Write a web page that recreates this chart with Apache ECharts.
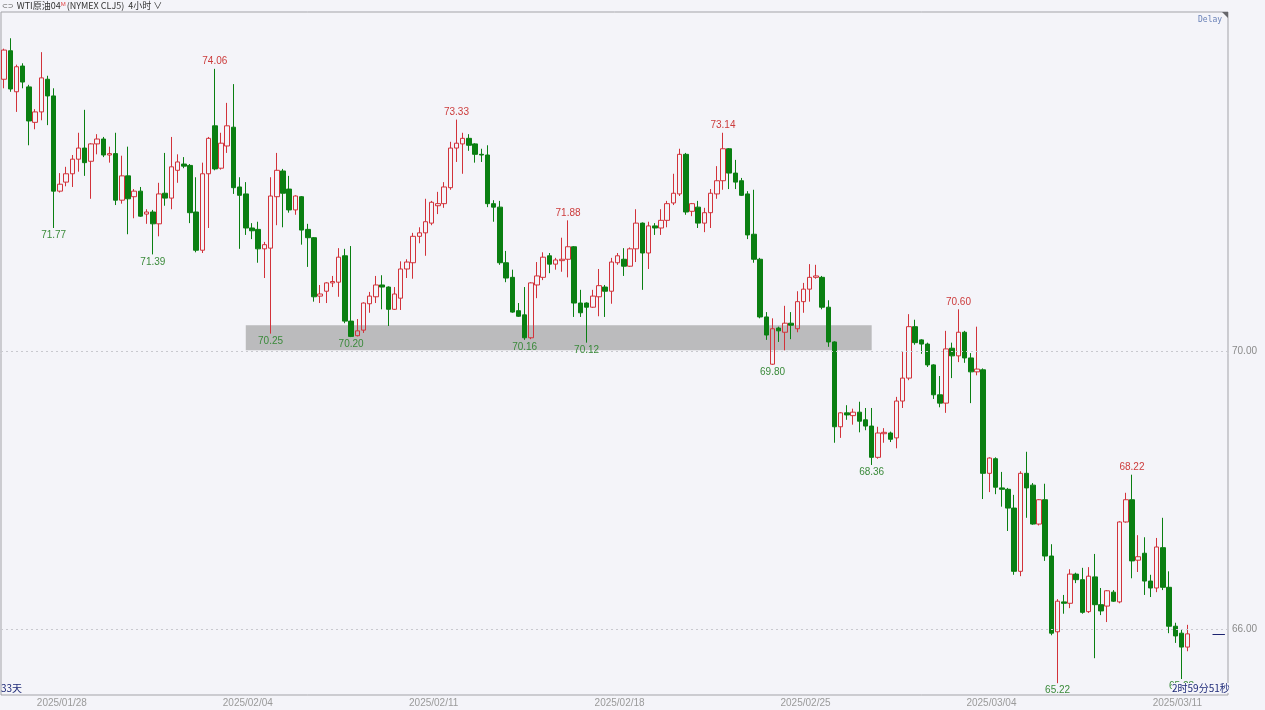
<!DOCTYPE html>
<html><head><meta charset="utf-8">
<script src="https://cdn.jsdelivr.net/npm/echarts@6/dist/echarts.min.js"></script>
<style>html,body{margin:0;padding:0;background:#f4f4f9;}#c{width:1265px;height:710px;}</style>
</head><body><div id="c"></div>
<script>
// 4-hour candles: [open, close, low, high]
const candles = [
[73.91,74.33,73.78,74.35],[74.32,73.77,73.73,74.50],[73.73,74.09,73.44,74.12],[74.10,73.87,73.78,74.14],[73.80,73.31,72.96,73.83],
[73.29,73.44,73.19,73.48],[73.44,73.93,73.32,74.30],[73.91,73.67,73.25,73.96],[73.67,72.30,71.77,73.78],[72.30,72.40,72.28,72.56],
[72.43,72.55,72.37,72.65],[72.55,72.76,72.36,72.82],[72.76,72.92,72.58,73.14],[72.92,72.71,72.52,73.47],[72.73,72.98,72.19,72.99],
[72.98,73.05,72.83,73.12],[73.05,72.82,72.79,73.08],[72.82,72.84,72.71,72.94],[72.84,72.17,72.10,73.14],[72.17,72.52,72.12,72.81],
[72.52,72.19,71.68,72.94],[72.22,72.30,71.91,72.33],[72.30,71.94,71.93,72.36],[71.97,72.00,71.83,72.04],[72.00,71.83,71.39,72.03],
[71.83,72.26,71.65,72.42],[72.27,72.20,72.09,72.85],[72.20,72.65,72.04,73.08],[72.60,72.72,72.42,72.83],[72.69,72.66,72.63,72.79],
[72.67,71.99,71.84,72.69],[72.00,71.45,71.42,72.50],[71.45,72.55,71.41,72.71],[72.55,73.06,71.77,73.08],[73.24,72.62,72.60,74.06],
[72.63,72.99,72.61,73.14],[72.95,73.24,72.85,73.57],[73.22,72.35,72.26,73.84],[72.36,72.24,71.47,72.50],[72.26,71.77,71.67,72.43],
[71.77,71.73,71.61,71.84],[71.75,71.47,71.27,71.86],[71.47,71.53,71.05,71.57],[71.48,72.23,70.25,72.50],[72.22,72.60,71.81,72.85],
[72.59,72.27,71.78,72.62],[72.33,72.03,71.99,72.52],[72.03,72.23,71.96,72.24],[72.22,71.74,71.53,72.23],[71.75,71.63,71.21,71.83],
[71.63,70.78,70.71,71.64],[70.79,70.82,70.69,70.95],[70.86,70.98,70.69,70.99],[70.98,71.00,70.92,71.08],[70.99,71.35,70.78,71.48],
[71.37,70.43,70.40,71.47],[70.43,70.21,70.20,71.51],[70.22,70.29,70.21,70.46],[70.30,70.69,70.26,70.70],[70.68,70.79,70.55,70.85],
[70.78,70.95,70.69,71.08],[70.95,70.92,70.60,71.09],[70.92,70.60,70.36,70.93],[70.60,70.82,70.59,70.92],[70.76,71.18,70.59,71.29],
[71.18,71.28,71.05,71.32],[71.27,71.65,71.04,71.70],[71.65,71.70,71.55,71.78],[71.70,71.86,71.37,72.19],[71.84,72.14,71.81,72.16],
[72.09,72.12,71.97,72.29],[72.12,72.36,72.06,72.43],[72.35,72.92,72.32,73.01],[72.92,72.99,72.72,73.33],[72.98,73.06,72.55,73.14],
[73.06,72.96,72.88,73.12],[72.98,72.83,72.71,72.99],[72.83,72.82,72.72,72.91],[72.82,72.12,72.07,72.96],[72.12,72.07,71.86,72.17],
[72.07,71.27,71.24,72.16],[71.27,71.05,70.99,71.44],[71.06,70.56,70.55,71.17],[70.58,70.50,70.49,70.69],[70.52,70.19,70.16,70.92],
[70.19,70.98,70.17,70.99],[70.95,71.08,70.76,71.28],[71.06,71.35,71.02,71.42],[71.37,71.25,71.12,71.41],[71.25,71.31,71.17,71.34],
[71.30,71.32,71.14,71.63],[71.32,71.50,71.06,71.88],[71.50,70.69,70.49,71.51],[70.69,70.55,70.49,70.88],[70.69,70.63,70.12,70.70],
[70.63,70.79,70.62,70.88],[70.78,70.94,70.50,71.18],[70.92,70.86,70.49,70.95],[70.86,71.28,70.68,71.34],[71.27,71.37,71.24,71.41],
[71.32,71.22,71.08,71.48],[71.22,71.47,71.21,71.49],[71.47,71.84,71.28,72.04],[71.84,71.41,70.88,71.85],[71.41,71.80,71.18,71.86],
[71.80,71.77,71.67,71.84],[71.77,71.88,71.67,72.04],[71.88,72.12,71.78,72.16],[72.13,72.27,72.10,72.55],[72.26,72.83,72.23,72.91],
[72.83,72.00,71.96,72.85],[72.01,72.12,71.94,72.13],[72.07,71.84,71.77,72.16],[71.84,71.99,71.71,72.06],[71.99,72.27,71.77,72.33],
[72.26,72.45,72.19,72.66],[72.45,72.91,72.32,73.14],[72.91,72.56,72.33,72.92],[72.56,72.43,72.33,72.75],[72.45,72.24,72.23,72.49],
[72.26,71.67,71.61,72.30],[71.68,71.32,71.27,72.32],[71.32,70.49,70.47,71.34],[70.49,70.23,70.16,70.56],[69.81,70.32,69.80,70.47],
[70.33,70.29,70.13,70.35],[70.27,70.40,70.01,70.65],[70.40,70.37,70.17,70.56],[70.32,70.71,70.27,70.86],[70.71,70.89,70.55,70.98],
[70.89,71.06,70.71,71.25],[71.06,71.08,71.04,71.24],[71.06,70.63,70.60,71.08],[70.63,70.13,70.06,70.73],[70.13,68.91,68.68,70.14],
[68.91,69.11,68.75,69.12],[69.11,69.08,69.01,69.22],[69.07,69.12,68.94,69.17],[69.12,68.99,68.83,69.27],[69.01,68.92,68.86,69.18],
[68.92,68.47,68.36,69.18],[68.47,68.82,68.45,68.91],[68.81,68.83,68.68,68.89],[68.82,68.73,68.69,68.84],[68.75,69.28,68.60,69.34],
[69.28,69.61,69.18,69.99],[69.61,70.35,69.58,70.53],[70.35,70.12,70.09,70.45],[70.16,70.10,69.96,70.17],[70.10,69.80,69.77,70.12],
[69.80,69.37,69.31,69.81],[69.37,69.25,69.19,69.64],[69.25,70.03,69.11,70.29],[70.04,69.93,69.61,70.12],[69.93,70.27,69.84,70.60],
[70.27,69.90,69.83,70.29],[69.90,69.70,69.25,69.97],[69.70,69.74,69.65,70.35],[69.73,68.24,67.87,69.75],[68.24,68.46,67.97,68.47],
[68.45,68.04,67.94,68.47],[68.03,68.01,67.76,68.26],[68.01,67.74,67.41,68.03],[67.74,66.83,66.78,67.93],[66.83,68.24,66.76,68.27],
[68.24,68.03,67.60,68.55],[68.07,67.51,67.50,68.10],[67.51,67.86,67.49,67.87],[67.86,67.05,66.98,68.09],[67.05,65.94,65.91,67.22],
[65.96,66.40,65.22,66.43],[66.39,66.37,66.22,66.49],[66.37,66.79,66.30,66.86],[66.79,66.71,66.66,66.81],[66.71,66.24,66.22,66.88],
[66.25,66.76,66.23,66.89],[66.75,66.35,65.58,67.08],[66.35,66.26,66.20,66.59],[66.33,66.55,66.10,66.56],[66.53,66.40,66.39,66.56],
[66.39,67.54,66.37,67.55],[67.54,67.86,67.53,67.96],[67.86,66.98,66.73,68.22],[66.99,67.04,66.82,67.35],[67.09,66.69,66.49,67.32],
[66.69,66.59,66.46,66.78],[66.59,67.18,66.53,67.31],[67.17,66.60,66.56,67.60],[66.60,66.04,65.94,66.83],[66.04,65.90,65.80,66.09],
[65.94,65.74,65.28,65.99],[65.74,65.93,65.68,66.06]
];
const slotCount = 198; // candle slots on the axis (incl. empty right margin)
const dateTickIdx = [9, 39, 69, 99, 129, 159, 189];
const dateTickLabels = ['2025/01/28','2025/02/04','2025/02/11','2025/02/18','2025/02/25','2025/03/04','2025/03/11'];
const priceTicks = [66, 70];
const highLabelIdx = [34, 73, 91, 116, 154, 182];
const lowLabelIdx = [8, 24, 43, 56, 84, 94, 124, 140, 170, 190];
const zoneIdx = [39, 140];
const zonePrice = [70.01, 70.37];

const categories = [];
for (let i = 0; i < slotCount; i++) categories.push(String(i));
const lastIdx = candles.length - 1;
const lastClose = candles[lastIdx][1];

const RED = '#d2323a', GREEN = '#0a7f12';
const highPts = highLabelIdx.map(i => ({coord: [i, candles[i][3]], value: candles[i][3].toFixed(2),
  label: {position: 'top', distance: 2, color: '#cc3b3b'}}));
const lowPts = lowLabelIdx.map(i => ({coord: [i, candles[i][2]], value: candles[i][2].toFixed(2),
  label: {position: 'bottom', distance: 2, color: '#3a8a3a'}}));

const chart = echarts.init(document.getElementById('c'), null, {renderer: 'canvas'});
chart.setOption({
  animation: false,
  backgroundColor: '#f4f4f9',
  grid: {left: 1, right: 37, top: 12, bottom: 15, show: true, borderColor: '#a3a3a8', borderWidth: 1},
  xAxis: {
    type: 'category', data: categories, boundaryGap: true,
    axisLine: {show: false}, axisTick: {show: false}, splitLine: {show: false},
    axisLabel: {
      interval: (index) => dateTickIdx.indexOf(index) >= 0,
      formatter: (v, index) => { const k = dateTickIdx.indexOf(Number(v)); return k >= 0 ? dateTickLabels[k] : ''; },
      color: '#9a9a9a', fontSize: 10, fontFamily: 'Liberation Sans', margin: 3, padding: [0, 0, 0, 4]
    }
  },
  yAxis: {
    type: 'value', position: 'right', min: 65.0504, max: 74.8777, scale: true,
    axisLine: {show: false}, axisTick: {show: false}, splitLine: {show: false},
    axisLabel: {customValues: priceTicks, formatter: v => v.toFixed(2), color: '#8a8a8a', fontSize: 10,
      fontFamily: 'Liberation Sans', margin: 4}
  },
  series: [{
    type: 'candlestick',
    data: candles,
    barWidth: 5,
    itemStyle: {color: 'rgba(0,0,0,0)', color0: GREEN, borderColor: RED, borderColor0: GREEN, borderWidth: 1},
    markPoint: {
      symbol: 'rect', symbolSize: [1, 1], itemStyle: {color: 'rgba(0,0,0,0)'},
      label: {show: true, fontSize: 10, fontFamily: 'Liberation Sans', formatter: p => p.value},
      data: highPts.concat(lowPts)
    },
    markArea: {
      silent: true,
      itemStyle: {color: 'rgba(140,140,140,0.55)'},
      data: [[{coord: [zoneIdx[0], zonePrice[1]]}, {coord: [zoneIdx[1], zonePrice[0]]}]]
    },
    markLine: {
      silent: true, symbol: 'none', animation: false,
      label: {show: false},
      data: priceTicks.map(v => ({yAxis: v, lineStyle: {type: [2, 3], color: '#c9c9cf', width: 1}})).concat([
        [{coord: [lastIdx + 4, lastClose], lineStyle: {type: 'solid', color: '#1b2270', width: 1}},
         {coord: [slotCount - 1, lastClose]}]
      ])
    }
  }],
  graphic: [
    {type: 'text', left: 2, top: 1, z: 100, style: {
      text: '{ic|⊂⊃}{t|WTI原油04}{m|M}{t|(NYMEX CLJ5)  4小时 ∨}',
      rich: {
        ic: {fontSize: 7, fill: '#555', fontFamily: 'DejaVu Sans', padding: [0, 3, 0, 0]},
        t: {fontSize: 9, fill: '#333', fontFamily: 'Noto Sans CJK SC'},
        m: {fontSize: 6, fill: '#e04040', fontFamily: 'Liberation Sans', verticalAlign: 'top', padding: [0, 1, 4, 0]}
      }}},
    {type: 'text', left: 1198, top: 16, z: 100, style: {text: 'Delay', fontSize: 8, fill: '#6a82b8', fontFamily: 'DejaVu Sans Mono'}},
    {type: 'polygon', z: 100, shape: {points: [[1222, 12], [1228, 12], [1228, 18]]}, style: {fill: '#66666b'}},
    {type: 'text', left: 1, top: 683, z: 100, style: {text: '33天', fontSize: 10, fill: '#1e2a78', fontFamily: 'Noto Sans CJK SC'}},
    {type: 'text', left: 1172, top: 683, z: 100, style: {text: '2时59分51秒', fontSize: 10, fill: '#1e2a78',
      fontFamily: 'Noto Sans CJK SC', backgroundColor: '#f4f4f9'}}
  ]
});
</script></body></html>
